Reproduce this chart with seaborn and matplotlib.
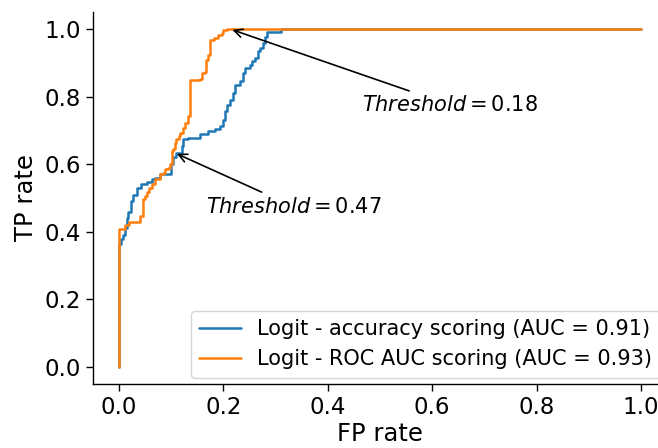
import matplotlib
matplotlib.use("Agg")
import matplotlib.pyplot as plt
import seaborn as sns
import pandas as pd

# ROC staircase corners (x = FP rate at which TP rate jumps to y)
fpr_acc = [0.0, 0.0, 0.004, 0.008, 0.011, 0.015, 0.018, 0.022, 0.027, 0.034, 0.042,
           0.053, 0.063, 0.069, 0.079, 0.100, 0.104, 0.109, 0.120, 0.123, 0.133,
           0.155, 0.171, 0.184, 0.193, 0.200, 0.203, 0.207, 0.213, 0.219, 0.222,
           0.232, 0.237, 0.241, 0.251, 0.254, 0.261, 0.267, 0.270, 0.276, 0.280,
           0.284, 0.310, 1.0]
tpr_acc = [0.0, 0.365, 0.38, 0.39, 0.41, 0.44, 0.46, 0.49, 0.51, 0.53, 0.54,
           0.546, 0.556, 0.56, 0.57, 0.60, 0.62, 0.634, 0.654, 0.674, 0.678,
           0.688, 0.698, 0.703, 0.713, 0.732, 0.757, 0.776, 0.79, 0.81, 0.835,
           0.845, 0.87, 0.884, 0.894, 0.904, 0.914, 0.934, 0.944, 0.958, 0.977,
           0.992, 1.0, 1.0]

fpr_roc = [0.0, 0.0, 0.012, 0.019, 0.040, 0.045, 0.050, 0.053, 0.058, 0.063,
           0.069, 0.079, 0.085, 0.088, 0.094, 0.098, 0.101, 0.104, 0.107, 0.110,
           0.114, 0.117, 0.123, 0.126, 0.133, 0.135, 0.136, 0.155, 0.158, 0.165,
           0.167, 0.171, 0.174, 0.181, 0.190, 0.197, 0.200, 0.206, 1.0]
tpr_roc = [0.0, 0.409, 0.42, 0.43, 0.448, 0.497, 0.505, 0.517, 0.531, 0.541,
           0.556, 0.57, 0.575, 0.587, 0.59, 0.60, 0.639, 0.644, 0.664, 0.674,
           0.683, 0.693, 0.708, 0.722, 0.742, 0.77, 0.85, 0.852, 0.869, 0.874,
           0.909, 0.924, 0.968, 0.972, 0.982, 0.987, 0.997, 1.0, 1.0]

labels = ["Logit - accuracy scoring (AUC = 0.91)",
          "Logit - ROC AUC scoring (AUC = 0.93)"]
thresholds = ["0.47", "0.18"]
threshold_points = [(0.106, 0.634), (0.212, 1.0)]
threshold_text = [(0.166, 0.457), (0.466, 0.757)]

sns.set_style("ticks")
plt.rcParams["font.family"] = ["DejaVu Sans"]
plt.rcParams["text.color"] = "black"
plt.rcParams["axes.labelcolor"] = "black"

fig = plt.figure(figsize=(6.58, 4.48), dpi=100)
ax = fig.add_axes([93 / 658, 64 / 448, 574 / 658, 372 / 448])

df_acc = pd.DataFrame({"fpr": fpr_acc, "tpr": tpr_acc})
df_roc = pd.DataFrame({"fpr": fpr_roc, "tpr": tpr_roc})
sns.lineplot(data=df_acc, x="fpr", y="tpr", ax=ax, sort=False, estimator=None,
             drawstyle="steps-post", color="#1f77b4", lw=1.8, label=labels[0])
sns.lineplot(data=df_roc, x="fpr", y="tpr", ax=ax, sort=False, estimator=None,
             drawstyle="steps-post", color="#ff7f0e", lw=1.8, label=labels[1])

ax.set_xlim(-0.05, 1.05)
ax.set_ylim(-0.05, 1.05)
ax.set_xticks([0.0, 0.2, 0.4, 0.6, 0.8, 1.0])
ax.set_yticks([0.0, 0.2, 0.4, 0.6, 0.8, 1.0])
ax.tick_params(labelsize=16.5, colors="black", width=1.0, length=5)
ax.set_xlabel("FP rate", fontsize=17.5, labelpad=2)
ax.set_ylabel("TP rate", fontsize=17.5, labelpad=5)
for s in ["left", "bottom"]:
    ax.spines[s].set_color("black")
    ax.spines[s].set_linewidth(1.0)
sns.despine(ax=ax)

for t, xy, xyt in zip(thresholds, threshold_points, threshold_text):
    ax.annotate(r"$Threshold = $" + t, xy=xy, xytext=xyt, fontsize=15,
                color="black",
                arrowprops=dict(arrowstyle="->", color="black", lw=1.2))

leg = ax.legend(loc="lower right", fontsize=15, frameon=True,
                borderaxespad=0.3)
leg.get_frame().set_edgecolor("#cccccc")

fig.savefig("out.png", dpi=100)
